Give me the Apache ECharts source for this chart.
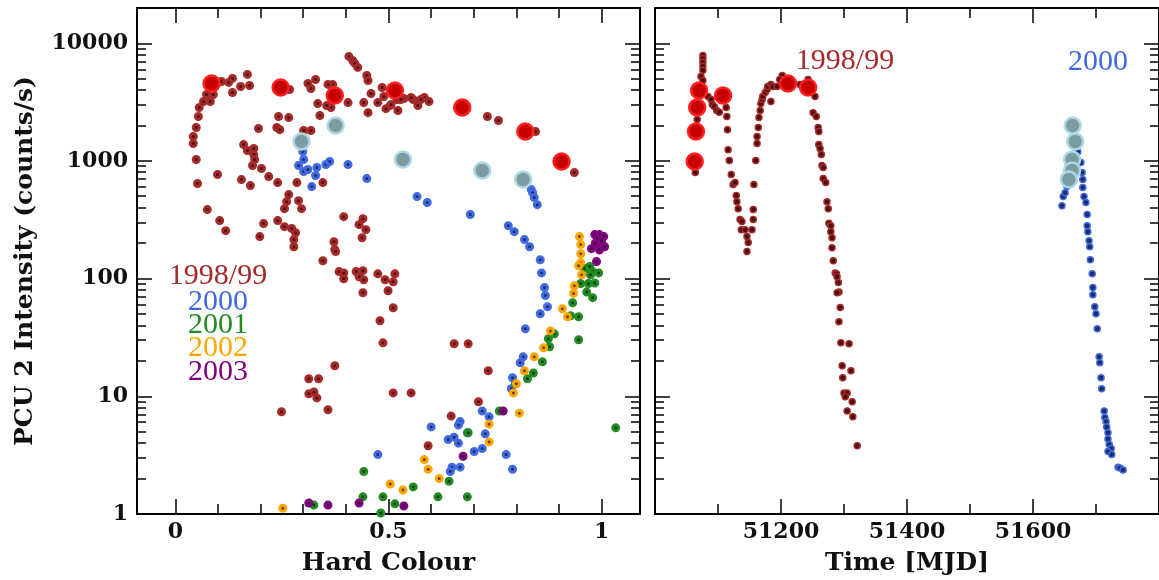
<!DOCTYPE html>
<html><head><meta charset="utf-8">
<script src="https://cdn.jsdelivr.net/npm/echarts@6/dist/echarts.min.js"></script>
<style>html,body{margin:0;padding:0;background:#fff}#c{width:1159px;height:580px}</style>
</head><body><div id="c"></div>
<script>
// ---------------- DATA ----------------
// Left panel: [hard colour, PCU2 intensity]
const hc1998 = [[0.407,7750],[0.416,7160],[0.421,6760],[0.428,6250],[0.449,5340],[0.452,4840],[0.459,3750],[0.452,2580],[0.485,4220],[0.489,3540],[0.475,3140],[0.504,2960],[0.494,2790],[0.522,2690],[0.52,3340],[0.536,3400],[0.558,3340],[0.569,2960],[0.584,3470],[0.595,3210],[0.442,3140],[0.405,3140],[0.369,4480],[0.358,4480],[0.365,2850],[0.355,2960],[0.339,2440],[0.334,3080],[0.311,4570],[0.318,4140],[0.329,4940],[0.268,4060],[0.169,5450],[0.174,4390],[0.153,4300],[0.134,5040],[0.125,4660],[0.134,3830],[0.108,4750],[0.089,3680],[0.073,3680],[0.082,3210],[0.066,3210],[0.056,2850],[0.054,2390],[0.049,1930],[0.042,1620],[0.042,1410],[0.049,1030],[0.052,644],[0.075,387],[0.104,312],[0.118,256],[0.099,768],[0.242,2390],[0.266,2340],[0.195,1890],[0.238,1930],[0.245,1850],[0.301,1820],[0.318,1820],[0.16,1380],[0.169,1230],[0.184,1280],[0.184,1135],[0.186,1030],[0.181,916],[0.202,864],[0.219,738],[0.24,656],[0.155,696],[0.176,619],[0.285,656],[0.346,656],[0.266,519],[0.261,452],[0.256,394],[0.289,461],[0.296,394],[0.395,337],[0.44,324],[0.431,288],[0.447,261],[0.438,223],[0.372,206],[0.24,312],[0.207,294],[0.198,228],[0.256,277],[0.273,267],[0.282,246],[0.278,215],[0.278,187],[0.374,177],[0.506,3020],[0.529,3340],[0.553,3470],[0.576,3340],[0.732,2390],[0.758,2210],[0.845,1780],[0.936,798],[0.376,170],[0.346,142],[0.384,115],[0.395,112],[0.395,100],[0.424,115],[0.44,117],[0.431,104],[0.442,98],[0.44,76],[0.475,110],[0.492,98],[0.511,94],[0.515,110],[0.499,79],[0.511,56.6],[0.48,43.9],[0.487,28.5],[0.374,18.2],[0.313,14.1],[0.336,14.1],[0.313,10.5],[0.325,10.9],[0.332,9.7],[0.249,7.4],[0.358,7.7],[0.511,10.7],[0.553,10.7],[0.593,3.8],[0.654,28],[0.687,28],[0.734,16.5],[0.711,9.0],[0.647,6.8]];
const hc2000 = [[0.299,1204],[0.301,1030],[0.289,916],[0.301,814],[0.311,847],[0.332,881],[0.353,934],[0.362,991],[0.405,934],[0.329,753],[0.32,607],[0.449,710],[0.567,499],[0.591,444],[0.692,351],[0.781,282],[0.795,251],[0.819,215],[0.831,187],[0.835,572],[0.838,539],[0.842,489],[0.849,426],[0.856,145],[0.859,112],[0.866,84],[0.868,72],[0.873,57.8],[0.856,50.4],[0.821,37.5],[0.816,21.7],[0.809,19.3],[0.791,14.4],[0.788,11.6],[0.72,7.5],[0.736,6.7],[0.6,5.5],[0.668,6.1],[0.664,5.7],[0.685,4.9],[0.727,4.8],[0.64,4.3],[0.654,4.5],[0.664,4.0],[0.701,3.4],[0.72,3.6],[0.776,3.2],[0.791,2.4],[0.649,2.5],[0.668,2.5],[0.645,2.3],[0.475,3.2]];
const hc2001 = [[0.96,122],[0.972,127],[0.979,115],[0.993,112],[0.974,108],[0.951,91],[0.969,91],[0.984,92],[0.965,77],[0.979,69],[0.932,62.5],[0.927,48.4],[0.946,47.5],[0.889,34],[0.875,30.9],[0.878,26.4],[0.946,30.3],[0.861,19.7],[0.84,15.8],[0.826,14.1],[0.798,12.8],[0.76,7.5],[0.687,4.9],[1.033,5.4],[0.642,1.9],[0.558,1.7],[0.616,1.4],[0.685,1.4],[0.487,1.4],[0.515,1.22],[0.482,1.02],[0.442,2.3],[0.44,1.4],[0.325,1.19]];
const hc2002 = [[0.948,228],[0.951,195],[0.951,163],[0.951,137],[0.946,129],[0.953,108],[0.936,87],[0.934,75],[0.908,55.6],[0.92,47.5],[0.88,36],[0.864,25.9],[0.842,21.7],[0.819,16.5],[0.8,12.8],[0.793,10.7],[0.807,7.2],[0.736,5.8],[0.736,4.1],[0.584,2.9],[0.593,2.4],[0.619,2.0],[0.504,1.8],[0.534,1.6],[0.252,1.12]];
const hc2003 = [[0.984,237],[0.995,237],[1.005,228],[1.007,187],[0.991,195],[0.976,180],[0.988,140],[0.99,220],[1.0,210],[0.985,200],[0.995,175],[0.769,7.5],[0.675,3.1],[0.536,1.17],[0.313,1.24],[0.358,1.19],[0.431,1.24]];
const hcBig1998 = [[0.085,4570],[0.247,4225],[0.374,3610],[0.515,3980],[0.673,2850],[0.821,1782],[0.906,991]];
const hcBig2000 = [[0.296,1466],[0.376,2005],[0.534,1030],[0.72,830],[0.816,696]];

// Right panel: [MJD, PCU2 intensity]
const lc1998 = [[51076,7900],[51076,7450],[51076,6900],[51076,6400],[51076,5900],[51073,5240],[51076,4840],[51064,800],[51067,2260],[51084,3540],[51089,3340],[51091,3020],[51094,2910],[51098,2690],[51102,2600],[51113,2850],[51114,2390],[51115,1850],[51116,1250],[51118,1010],[51121,770],[51124,631],[51127,656],[51129,509],[51130,452],[51132,394],[51135,318],[51137,261],[51138,306],[51143,261],[51146,228],[51148,203],[51146,170],[51154,261],[51156,318],[51156,387],[51157,631],[51160,1010],[51162,1410],[51162,1620],[51164,1930],[51165,2340],[51167,2690],[51168,3080],[51170,3340],[51171,3540],[51175,3830],[51178,4060],[51179,4300],[51184,4480],[51184,3210],[51187,4300],[51194,4300],[51202,5340],[51198,4940],[51210,4750],[51219,4660],[51230,4480],[51243,4940],[51246,4060],[51254,3540],[51251,2580],[51256,2390],[51259,1930],[51260,1780],[51260,1380],[51262,1280],[51264,1135],[51265,916],[51267,881],[51267,710],[51271,656],[51273,452],[51275,394],[51276,296],[51279,282],[51279,251],[51281,223],[51281,183],[51283,142],[51286,112],[51288,110],[51289,104],[51291,93],[51292,77],[51289,76],[51294,57],[51292,43],[51295,28.5],[51308,28],[51297,18.2],[51311,16.5],[51298,14.4],[51300,10.7],[51305,10.7],[51302,9.9],[51313,9.0],[51305,7.5],[51314,6.7],[51321,3.8]];
const lc2000 = [[51646,418],[51648,499],[51651,539],[51654,607],[51657,650],[51671,1200],[51676,971],[51678,798],[51679,696],[51679,595],[51681,499],[51684,444],[51686,351],[51686,282],[51687,251],[51689,210],[51690,187],[51691,145],[51694,110],[51695,84],[51695,73],[51698,57.8],[51700,50.4],[51702,37.5],[51705,21.7],[51706,19.3],[51708,14.4],[51709,11.6],[51713,7.5],[51714,6.6],[51716,6.1],[51717,5.5],[51719,4.9],[51719,4.35],[51721,3.9],[51724,3.6],[51719,3.4],[51725,3.2],[51735,2.5],[51738,2.46],[51743,2.37]];
const lcBig1998 = [[51211,4570],[51243,4225],[51108,3610],[51070,3980],[51067,2850],[51065,1782],[51063,991]];
const lcBig2000 = [[51667,1466],[51663,2005],[51662,1030],[51662,830],[51657,696]];

// Axis ticks / labels
const hcMajor = [0, 0.5, 1];
const hcMinor = [0.1, 0.2, 0.3, 0.4, 0.6, 0.7, 0.8, 0.9];
const mjdMajor = [51200, 51400, 51600];
const mjdMinor = [51100, 51300, 51500, 51700];
const yMinorTicks = [];
[1, 10, 100, 1000].forEach(d => { for (let k = 2; k <= 9; k++) yMinorTicks.push(k * d); });

const yearLabels = ['1998/99', '2000', '2001', '2002', '2003'];
const yearColors = ['#a52a2a', '#4169e1', '#228b22', '#ffa500', '#800080'];
const yearDark = ['#4a0e0e', '#1b2d66', '#0c3a0c', '#6b4500', '#330033'];

// ---------------- CHART ----------------
const chart = echarts.init(document.getElementById('c'), null, {renderer: 'canvas'});
const TXT = '#111';
const tickFont = {fontFamily: 'DejaVu Serif', fontWeight: 'bold', fontSize: 22, color: TXT};
const nameFont = {fontFamily: 'DejaVu Serif', fontWeight: 'bold', fontSize: 25, color: TXT};
const lineBlack = {color: '#000', width: 2};

function xAx(grid, pos, min, max, ticks, len, label, name, isMain) {
  return {
    type: 'value', gridIndex: grid, position: pos, min: min, max: max,
    axisLine: {show: isMain, onZero: false, lineStyle: lineBlack},
    axisTick: {show: true, inside: true, length: len, customValues: ticks, lineStyle: {color: '#000', width: 1.5}},
    axisLabel: label ? Object.assign({show: true, customValues: ticks, margin: 7, formatter: v => String(v)}, tickFont) : {show: false},
    splitLine: {show: false},
    name: name || '', nameLocation: 'middle', nameGap: 37, nameTextStyle: nameFont
  };
}
function yAx(grid, pos, label, name) {
  return {
    type: 'log', logBase: 10, gridIndex: grid, position: pos, min: 1, max: 20000,
    axisLine: {show: true, onZero: false, lineStyle: lineBlack},
    axisTick: {show: true, inside: true, length: 15, lineStyle: {color: '#000', width: 1.5}},
    axisLabel: label ? Object.assign({show: true, margin: 9, formatter: v => (v > 10001 ? '' : String(Math.round(v)))}, tickFont) : {show: false},
    splitLine: {show: false}, minorTick: {show: false},
    name: name || '', nameLocation: 'middle', nameGap: 99, nameRotate: 90, nameTextStyle: nameFont
  };
}
function yMinorSeries(xi, yi, xval) {
  return {
    type: 'custom', xAxisIndex: xi, yAxisIndex: yi, silent: true, clip: false, z: 6,
    data: yMinorTicks.map(v => [xval, v]),
    renderItem: function (params, api) {
      const cs = params.coordSys;
      const y = Math.round(api.coord([api.value(0), api.value(1)])[1]);
      const st = {stroke: '#000', lineWidth: 1.5};
      return {type: 'group', children: [
        {type: 'line', shape: {x1: cs.x, y1: y, x2: cs.x + 9, y2: y}, style: st},
        {type: 'line', shape: {x1: cs.x + cs.width - 9, y1: y, x2: cs.x + cs.width, y2: y}, style: st}
      ]};
    }
  };
}
function small(data, i, xi, yi, size, bw) {
  return {type: 'scatter', xAxisIndex: xi, yAxisIndex: yi, data: data, symbol: 'circle', symbolSize: size, z: 3,
    itemStyle: {color: yearDark[i], borderColor: yearColors[i], borderWidth: bw, opacity: 1}, silent: true};
}
function big(data, fill, border, xi, yi) {
  return {type: 'scatter', xAxisIndex: xi, yAxisIndex: yi, data: data, symbol: 'circle', symbolSize: 16, z: 4,
    itemStyle: {color: fill, borderColor: border, borderWidth: 2.5, opacity: 1}, silent: true};
}

const graphic = [];
const leftPos = [[218, 276], [218, 302], [218, 325], [218, 348], [218, 372]];
yearLabels.forEach((t, i) => graphic.push({type: 'text', x: leftPos[i][0], y: leftPos[i][1], z: 10,
  style: {text: t, fill: yearColors[i], font: '30px "Liberation Serif"', align: 'center', verticalAlign: 'middle'}}));
graphic.push({type: 'text', x: 845, y: 61, z: 10, style: {text: yearLabels[0], fill: yearColors[0], font: '30px "Liberation Serif"', align: 'center', verticalAlign: 'middle'}});
graphic.push({type: 'text', x: 1098, y: 62, z: 10, style: {text: yearLabels[1], fill: yearColors[1], font: '30px "Liberation Serif"', align: 'center', verticalAlign: 'middle'}});

chart.setOption({
  animation: false,
  backgroundColor: '#fff',
  grid: [
    {left: 137, top: 8, width: 503, height: 506, containLabel: false, outerBoundsMode: 'none'},
    {left: 655, top: 8, width: 504, height: 506, containLabel: false, outerBoundsMode: 'none'}
  ],
  xAxis: [
    xAx(0, 'bottom', -0.09, 1.09, hcMajor, 15, true, 'Hard Colour', true),
    xAx(0, 'top', -0.09, 1.09, hcMajor, 15, false, '', true),
    xAx(0, 'bottom', -0.09, 1.09, hcMinor, 10, false, '', false),
    xAx(0, 'top', -0.09, 1.09, hcMinor, 10, false, '', false),
    xAx(1, 'bottom', 51000, 51800, mjdMajor, 15, true, 'Time [MJD]', true),
    xAx(1, 'top', 51000, 51800, mjdMajor, 15, false, '', true),
    xAx(1, 'bottom', 51000, 51800, mjdMinor, 10, false, '', false),
    xAx(1, 'top', 51000, 51800, mjdMinor, 10, false, '', false)
  ],
  yAxis: [
    yAx(0, 'left', true, 'PCU 2 Intensity (counts/s)'),
    yAx(0, 'right', false, ''),
    yAx(1, 'left', false, ''),
    yAx(1, 'right', false, '')
  ],
  graphic: graphic,
  series: [
    small(hc1998, 0, 0, 0, 6, 3),
    small(hc2000, 1, 0, 0, 6, 3),
    small(hc2001, 2, 0, 0, 6, 3),
    small(hc2002, 3, 0, 0, 6, 3),
    small(hc2003, 4, 0, 0, 6, 3),
    big(hcBig1998, '#c80000', '#ff1f1f', 0, 0),
    big(hcBig2000, '#7c9ca2', '#acd8e4', 0, 0),
    small(lc1998, 0, 4, 2, 6, 1.5),
    small(lc2000, 1, 4, 2, 6, 1.5),
    big(lcBig1998, '#c80000', '#ff1f1f', 4, 2),
    big(lcBig2000, '#7c9ca2', '#acd8e4', 4, 2),
    yMinorSeries(0, 0, 0.5),
    yMinorSeries(4, 2, 51400)
  ]
});
</script></body></html>
